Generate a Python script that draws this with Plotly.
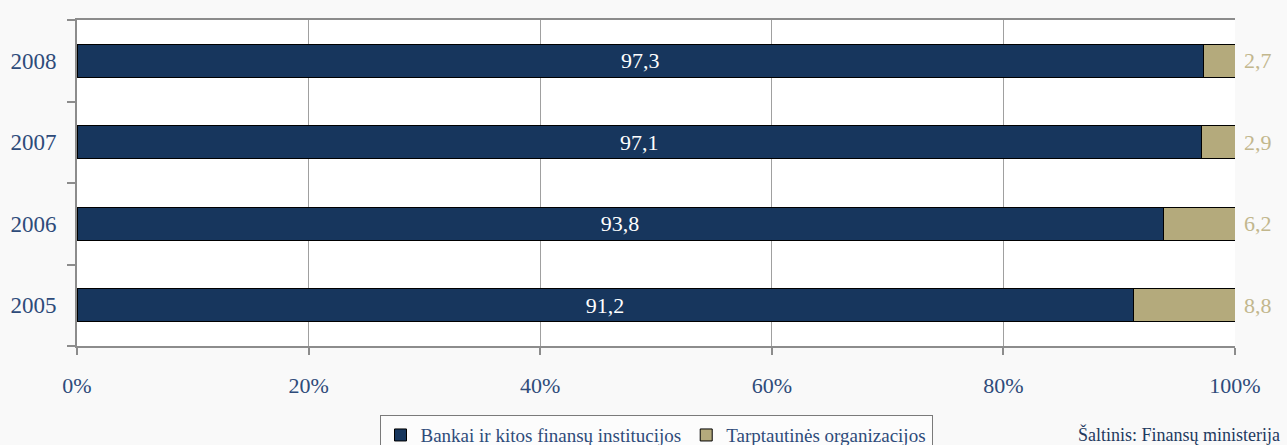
import plotly.graph_objects as go

years = ["2008", "2007", "2006", "2005"]
banks = [97.3, 97.1, 93.8, 91.2]
intl = [2.7, 2.9, 6.2, 8.8]
x_ticks = [0, 20, 40, 60, 80, 100]
series_names = ["Bankai ir kitos finansų institucijos", "Tarptautinės organizacijos"]
source_text = "Šaltinis: Finansų ministerija"

NAVY = "#17365d"
TAN = "#b4aa7c"
TXT = "#2e4b7a"
FONT = "Liberation Serif"

def fmt(v):
    return f"{v:.1f}".replace(".", ",")

cat_order = years[::-1]

fig = go.Figure()
fig.add_trace(go.Bar(
    y=years, x=banks, orientation="h", name=series_names[0],
    marker=dict(color=NAVY, line=dict(color="#000000", width=1)),
    text=[fmt(v) for v in banks], textposition="inside", insidetextanchor="middle",
    textfont=dict(color="white", size=22, family=FONT),
    hoverinfo="skip",
))
fig.add_trace(go.Bar(
    y=years, x=intl, orientation="h", name=series_names[1],
    marker=dict(color=TAN, line=dict(color="#000000", width=1)),
    hoverinfo="skip",
))

annotations = []
for y, b, i in zip(years, banks, intl):
    annotations.append(dict(
        x=b + i, y=cat_order.index(y), xref="x", yref="y", text=fmt(i), showarrow=False,
        xanchor="left", yanchor="middle", xshift=7,
        font=dict(color="#c2b78d", size=22, family=FONT),
    ))
annotations.append(dict(
    text=source_text, xref="paper", yref="paper",
    x=1.0406, y=-0.273, xanchor="right", yanchor="middle",
    showarrow=False, font=dict(size=18, color="#1f3a5f", family=FONT),
))

fig.update_layout(
    width=1287, height=445,
    margin=dict(l=77, r=52, t=20, b=99, autoexpand=False),
    barmode="stack", bargap=0.6,
    paper_bgcolor="#f9f9f9", plot_bgcolor="#ffffff",
    font=dict(family=FONT, color=TXT, size=20),
    showlegend=True,
    legend=dict(
        orientation="h", x=0.5, xanchor="center", y=-0.212, yanchor="top",
        traceorder="normal",
        bgcolor="#fcfcfc", bordercolor="#7a7a7a", borderwidth=1,
        font=dict(size=19, color=TXT, family=FONT),
        itemwidth=30, tracegroupgap=0,
    ),
    annotations=annotations,
)
fig.update_xaxes(
    range=[0, 100], tickvals=x_ticks, ticktext=[f"{v}%" for v in x_ticks],
    showgrid=True, gridcolor="#a0a0a0", gridwidth=1,
    showline=True, linecolor="#8c8c8c", linewidth=2, mirror=True,
    ticks="outside", ticklen=7, tickcolor="#8c8c8c", tickwidth=2,
    ticklabelstandoff=12, zeroline=False, automargin=False,
    tickfont=dict(size=22, color=TXT, family=FONT),
)
fig.update_yaxes(
    type="category", categoryorder="array", categoryarray=cat_order,
    range=[-0.5, len(cat_order) - 0.5],
    showgrid=False, showline=True, linecolor="#8c8c8c", linewidth=2,
    ticks="outside", ticklen=8, tickcolor="#8c8c8c", tickwidth=2,
    tickson="boundaries", ticklabelstandoff=14, automargin=False,
    tickfont=dict(size=23, color=TXT, family=FONT),
)

fig.write_html(
    "out.html",
    config={"displayModeBar": False},
    post_script="document.body.style.margin='0';document.body.style.background='#f9f9f9';",
)
